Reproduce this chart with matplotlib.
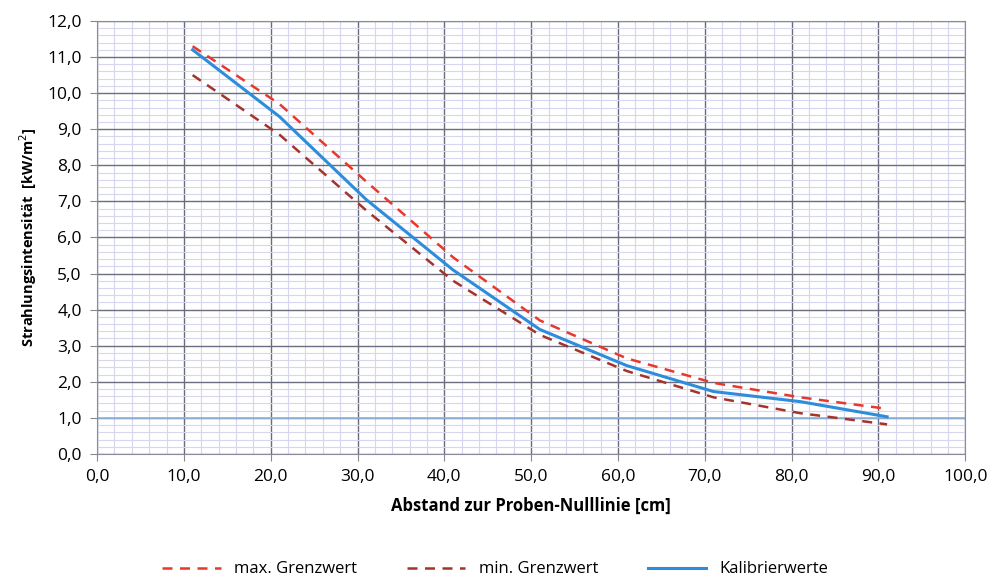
import matplotlib.pyplot as plt
from matplotlib.ticker import MultipleLocator, FuncFormatter

# Abstand [cm]
abstand = [11, 21, 31, 41, 51, 61, 71, 81, 91]
max_grenzwert = [11.3, 9.7, 7.55, 5.45, 3.7, 2.65, 1.97, 1.57, 1.25]
min_grenzwert = [10.5, 8.85, 6.75, 4.8, 3.3, 2.3, 1.57, 1.13, 0.82]
kalibrierwerte = [11.2, 9.35, 7.05, 5.1, 3.45, 2.45, 1.73, 1.45, 1.03]

plt.rcParams['font.family'] = ['Open Sans', 'DejaVu Sans']

fig = plt.figure(figsize=(9.91, 5.82), dpi=100)
ax = fig.add_axes([0.098, 0.22, 0.876, 0.744])

ax.set_xlim(0, 100)
ax.set_ylim(0, 12)
ax.xaxis.set_major_locator(MultipleLocator(10))
ax.xaxis.set_minor_locator(MultipleLocator(2))
ax.yaxis.set_major_locator(MultipleLocator(1))
ax.yaxis.set_minor_locator(MultipleLocator(0.2))
fmt = FuncFormatter(lambda v, p: f"{v:.1f}".replace('.', ','))
ax.xaxis.set_major_formatter(fmt)
ax.yaxis.set_major_formatter(fmt)

ax.grid(which='minor', color='#d6d6ee', linewidth=0.8)
ax.grid(which='major', color='#6a6c80', linewidth=1.0)
ax.set_axisbelow(True)
ax.tick_params(which='minor', length=0)
ax.tick_params(which='major', length=5, color='#888888', labelsize=12.5, pad=6)
for s in ax.spines.values():
    s.set_color('#8a8aa0')

ax.axhline(1.0, color='#8fb8e0', linewidth=1.2, zorder=1.5)

ax.plot(abstand, max_grenzwert, '--', color='#e8382c', linewidth=1.8, dashes=(4, 3), label='max. Grenzwert')
ax.plot(abstand, min_grenzwert, '--', color='#a3342c', linewidth=1.8, dashes=(4, 3), label='min. Grenzwert')
ax.plot(abstand, kalibrierwerte, '-', color='#2e8ddb', linewidth=2.2, label='Kalibrierwerte')

ax.set_xlabel('Abstand zur Proben-Nulllinie [cm]', fontweight='bold', fontsize=12, labelpad=8)
ax.set_ylabel('Strahlungsintensität  [kW/m$^2$]', fontweight='bold', fontsize=10.5, labelpad=6)

fig.legend(loc='lower center', bbox_to_anchor=(0.5, -0.018), ncol=3, frameon=False,
           fontsize=12, handlelength=3.5, columnspacing=3.0)

fig.savefig('out.png', dpi=100)
